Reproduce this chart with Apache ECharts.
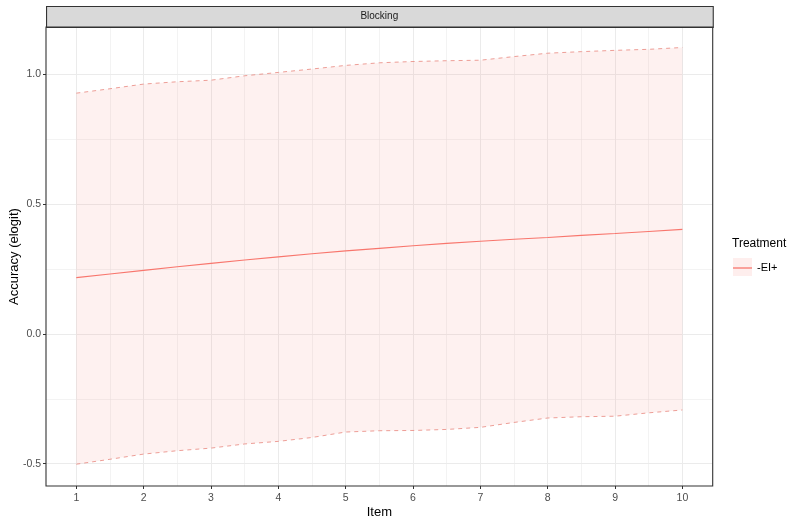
<!DOCTYPE html>
<html><head><meta charset="utf-8">
<script src="https://cdn.jsdelivr.net/npm/echarts@6/dist/echarts.min.js"></script>
<style>html,body{margin:0;padding:0;background:#fff}#c{width:800px;height:525px}</style>
</head><body><div id="c"></div><script>
// ---- data ----
const items = [1,1.5,2,2.5,3,3.5,4,4.5,5,5.5,6,6.5,7,7.5,8,8.5,9,9.5,10];
const meanVals  = [0.217,0.231,0.245,0.259,0.272,0.285,0.297,0.309,0.320,0.330,0.340,0.349,0.357,0.365,0.372,0.380,0.387,0.395,0.403];
const upperVals = [0.928,0.945,0.963,0.972,0.978,0.995,1.008,1.021,1.035,1.045,1.050,1.053,1.055,1.069,1.082,1.088,1.093,1.097,1.104];
const lowerVals = [-0.502,-0.483,-0.463,-0.450,-0.440,-0.424,-0.414,-0.399,-0.378,-0.373,-0.372,-0.368,-0.360,-0.341,-0.324,-0.319,-0.317,-0.304,-0.293];
const xTicks = [1,2,3,4,5,6,7,8,9,10];
const yTicks = [-0.5,0,0.5,1.0];
const xMinorGrid = [1.5,2.5,3.5,4.5,5.5,6.5,7.5,8.5,9.5];
const yMinorGrid = [-0.25,0.25,0.75];
const facetLabel = 'Blocking';
const legendTitle = 'Treatment';
const seriesName = '-EI+';

const FONT = '"Liberation Sans", Arial, sans-serif';
const RED = '#F8766D';
const pair = (xs, ys) => xs.map((x, i) => [x, ys[i]]);
const bandData = items.map((x, i) => [x, lowerVals[i], upperVals[i]]);

const gl = (w) => ({width: w, color: '#EBEBEB', type: 'solid'});
const gridLines = [].concat(
  xTicks.map(v => ({xAxis: v, lineStyle: gl(1)})),
  xMinorGrid.map(v => ({xAxis: v, lineStyle: gl(0.6)})),
  yTicks.map(v => ({yAxis: v, lineStyle: gl(1)})),
  yMinorGrid.map(v => ({yAxis: v, lineStyle: gl(0.6)}))
);

const chart = echarts.init(document.getElementById('c'), null, {renderer: 'canvas'});
chart.setOption({
  animation: false,
  backgroundColor: '#ffffff',
  textStyle: {fontFamily: FONT},
  grid: {left: 46, right: 87.3, top: 27, bottom: 39, containLabel: false, outerBoundsMode: 'none',
         show: true, borderColor: '#333333', borderWidth: 1.1, backgroundColor: 'transparent', z: 10},
  xAxis: {
    type: 'value', min: 0.55, max: 10.45,
    name: 'Item', nameLocation: 'middle', nameGap: 20, nameMoveOverlap: false,
    nameTextStyle: {fontSize: 13, color: '#000', fontFamily: FONT},
    axisLine: {show: false, onZero: false},
    axisTick: {show: true, length: 3, lineStyle: {color: '#333333', width: 1}, customValues: xTicks},
    axisLabel: {color: '#4D4D4D', fontSize: 10.5, margin: 7, fontFamily: FONT, customValues: xTicks, formatter: v => String(v)},
    splitLine: {show: false}, minorSplitLine: {show: false}
  },
  yAxis: {
    type: 'value', min: -0.586, max: 1.183,
    name: 'Accuracy (elogit)', nameLocation: 'middle', nameGap: 25, nameMoveOverlap: false,
    nameTextStyle: {fontSize: 13, color: '#000', fontFamily: FONT},
    axisLine: {show: false, onZero: false},
    axisTick: {show: true, length: 3, lineStyle: {color: '#333333', width: 1}, customValues: yTicks},
    axisLabel: {color: '#4D4D4D', fontSize: 10.5, margin: 5, fontFamily: FONT, customValues: yTicks, formatter: v => v.toFixed(1)},
    splitLine: {show: false}
  },
  legend: {
    orient: 'vertical', left: 733, top: 261, padding: 0,
    itemWidth: 19, itemHeight: 1.3, itemGap: 4,
    data: [{name: seriesName, icon: 'rect'}],
    textStyle: {fontSize: 11, color: '#000', fontFamily: FONT, lineHeight: 14},
    selectedMode: false
  },
  graphic: [
    {type: 'rect', left: 46, top: 6, shape: {width: 666.7, height: 21}, style: {fill: '#D9D9D9', stroke: '#333333', lineWidth: 1.1}, z: 5},
    {type: 'text', x: 379.3, y: 16.5, style: {text: facetLabel, fill: '#1A1A1A', font: '10px ' + FONT, textAlign: 'center', textVerticalAlign: 'middle'}, z: 6},
    {type: 'text', x: 732, y: 244, style: {text: legendTitle, fill: '#000', font: '12px ' + FONT, textAlign: 'left', textVerticalAlign: 'middle'}, z: 6},
    {type: 'rect', x: 733, y: 258, shape: {width: 19, height: 18}, style: {fill: 'rgba(248,118,109,0.12)'}, z: -1}
  ],
  series: [
    {
      name: 'gridlines', type: 'line', data: [], silent: true, z: 1,
      markLine: {silent: true, symbol: ['none', 'none'], label: {show: false}, z: 1, animation: false, data: gridLines}
    },
    {
      name: 'band', type: 'custom', data: bandData, silent: true, z: 2,
      encode: {x: 0, y: [1, 2]},
      renderItem: function (params, api) {
        if (params.dataIndex !== 0) return null;
        const top = bandData.map(d => api.coord([d[0], d[2]]));
        const bot = bandData.slice().reverse().map(d => api.coord([d[0], d[1]]));
        return {type: 'polygon', shape: {points: top.concat(bot)}, style: {fill: 'rgba(248,118,109,0.1)', stroke: null}};
      }
    },
    {
      name: 'upper', type: 'line', data: pair(items, upperVals), showSymbol: false, symbol: 'none',
      lineStyle: {color: '#E9867E', width: 0.8, type: [4, 4]}, silent: true, z: 3
    },
    {
      name: 'lower', type: 'line', data: pair(items, lowerVals), showSymbol: false, symbol: 'none',
      lineStyle: {color: '#E9867E', width: 0.8, type: [4, 4]}, silent: true, z: 3
    },
    {
      name: seriesName, type: 'line', data: pair(items, meanVals), showSymbol: false, symbol: 'none', smooth: false,
      lineStyle: {color: RED, width: 1.1}, itemStyle: {color: RED}, silent: true, z: 4
    }
  ]
});
</script></body></html>
